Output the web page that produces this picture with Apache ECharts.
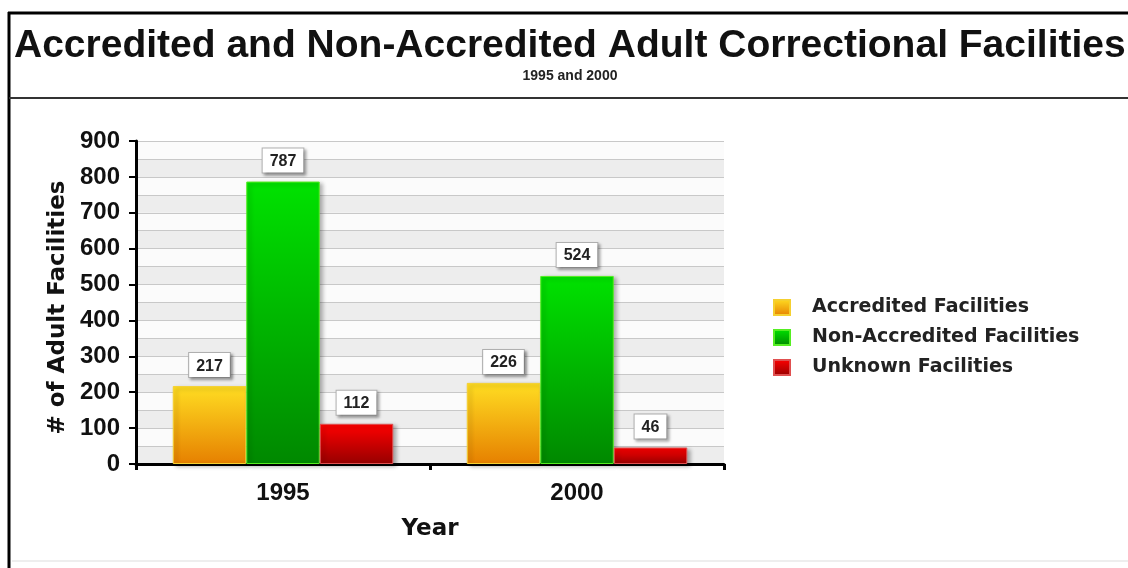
<!DOCTYPE html>
<html>
<head>
<meta charset="utf-8">
<title>Accredited and Non-Accredited Adult Correctional Facilities</title>
<script src="https://cdn.jsdelivr.net/npm/echarts@6/dist/echarts.min.js"></script>
<style>
  html, body { margin: 0; padding: 0; background: #fff; }
  #chart { width: 1128px; height: 568px; }
</style>
</head>
<body>
<div id="chart"></div>
<script>
// data
var years = ["1995", "2000"];
var accredited = [217, 226];
var nonAccredited = [787, 524];
var unknown = [112, 46];
var seriesNames = ["Accredited Facilities", "Non-Accredited Facilities", "Unknown Facilities"];

var ARIAL = "'Liberation Sans', Arial, sans-serif";
var WIDE = "'DejaVu Sans', Verdana, sans-serif";

function grad(top, bottom) {
  return {
    type: "linear", x: 0, y: 0, x2: 0, y2: 1,
    colorStops: [{ offset: 0, color: top }, { offset: 1, color: bottom }]
  };
}

var labelBox = {
  show: true,
  position: "top",
  distance: 9,
  color: "#222",
  fontFamily: ARIAL,
  fontWeight: "bold",
  fontSize: 16,
  backgroundColor: "#fff",
  borderColor: "#b0b0b0",
  borderWidth: 1,
  padding: [5, 7, 3, 7],
  shadowColor: "rgba(0,0,0,0.35)",
  shadowBlur: 3,
  shadowOffsetX: 2,
  shadowOffsetY: 2
};

function barSeries(name, data, top, bottom, border) {
  return {
    name: name,
    type: "bar",
    yAxisIndex: 0,
    data: data,
    barGap: "0%",
    barCategoryGap: "25%",
    itemStyle: {
      color: grad(top, bottom),
      borderColor: border,
      borderWidth: 1,
      shadowColor: "rgba(0,0,0,0.3)",
      shadowBlur: 4,
      shadowOffsetX: 3,
      shadowOffsetY: 2
    },
    label: labelBox,
    animation: false
  };
}

var myChart = echarts.init(document.getElementById("chart"));

myChart.setOption({
  backgroundColor: "#fff",
  textStyle: { fontFamily: ARIAL },
  title: [
    {
      text: "Accredited and Non-Accredited Adult Correctional Facilities",
      left: 14,
      top: 27,
      padding: 0,
      textStyle: { fontFamily: ARIAL, fontWeight: "bold", fontSize: 39, color: "#111" }
    },
    {
      text: "1995 and 2000",
      left: 570,
      textAlign: "center",
      top: 69,
      padding: 0,
      textStyle: { fontFamily: ARIAL, fontWeight: "bold", fontSize: 14, color: "#222" }
    }
  ],
  graphic: [
    { type: "line", shape: { x1: 8, y1: 13, x2: 1128, y2: 13 }, style: { stroke: "#000", lineWidth: 3 } },
    { type: "line", shape: { x1: 9, y1: 12, x2: 9, y2: 568 }, style: { stroke: "#000", lineWidth: 3 } },
    { type: "line", shape: { x1: 9, y1: 98, x2: 1128, y2: 98 }, style: { stroke: "#333", lineWidth: 2 } },
    { type: "line", shape: { x1: 12, y1: 561, x2: 1128, y2: 561 }, style: { stroke: "#eee", lineWidth: 2 } }
  ],
  legend: {
    data: seriesNames,
    orient: "vertical",
    left: 768,
    top: 293,
    itemWidth: 16,
    itemHeight: 15,
    itemGap: 11,
    icon: "rect",
    textStyle: {
      fontFamily: WIDE, fontWeight: "bold", fontSize: 19, color: "#222",
      padding: [0, 0, 0, 17]
    }
  },
  grid: { left: 136, right: 404, top: 141, bottom: 104 },
  xAxis: {
    type: "category",
    data: years,
    name: "Year",
    nameLocation: "middle",
    nameGap: 54,
    nameTextStyle: { fontFamily: WIDE, fontWeight: "bold", fontSize: 23, color: "#111" },
    axisLine: { lineStyle: { color: "#000", width: 3 } },
    axisTick: { show: true, length: 6, interval: 0, lineStyle: { color: "#000", width: 3 } },
    axisLabel: { margin: 17, fontFamily: ARIAL, fontWeight: "bold", fontSize: 24, color: "#111" }
  },
  yAxis: [
    {
      // bands and grid lines every 50
      type: "value",
      min: 0,
      max: 900,
      interval: 50,
      axisLine: { show: false },
      axisTick: { show: false },
      axisLabel: { show: false },
      splitLine: { show: true, lineStyle: { color: "#c8c8c8", width: 1 } },
      splitArea: { show: true, areaStyle: { color: ["#ededed", "#fbfbfb"] } }
    },
    {
      type: "value",
      min: 0,
      max: 900,
      interval: 100,
      position: "left",
      name: "# of Adult Facilities",
      nameLocation: "middle",
      nameGap: 66,
      nameTextStyle: {
        fontFamily: WIDE, fontWeight: "bold", fontSize: 23, color: "#111",
        padding: [0, 10, 0, 0]
      },
      axisLine: { show: true, lineStyle: { color: "#000", width: 3 } },
      axisTick: { show: true, length: 7, lineStyle: { color: "#000", width: 2 } },
      axisLabel: { margin: 16, fontFamily: ARIAL, fontWeight: "bold", fontSize: 24, color: "#111" },
      splitLine: { show: false }
    }
  ],
  series: [
    barSeries(seriesNames[0], accredited, "#ffdd22", "#e68000", "#f5d030"),
    barSeries(seriesNames[1], nonAccredited, "#00e200", "#008800", "#55ee22"),
    barSeries(seriesNames[2], unknown, "#ff0000", "#960000", "#e05050")
  ]
});
</script>
</body>
</html>
